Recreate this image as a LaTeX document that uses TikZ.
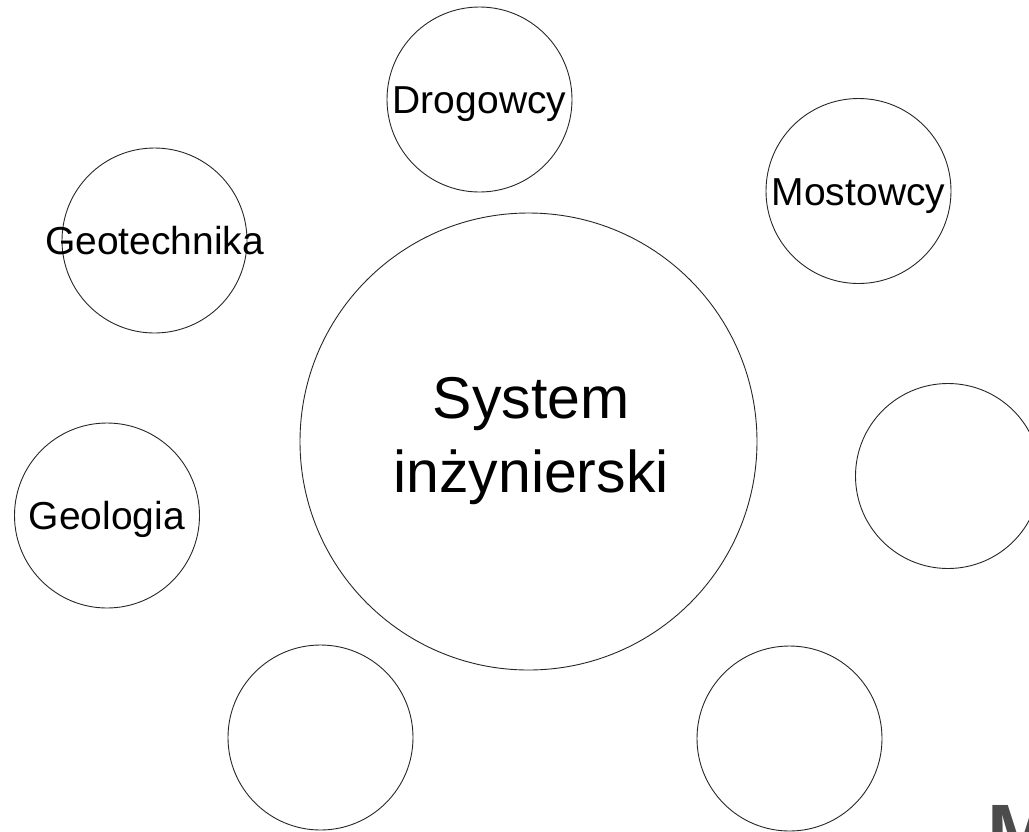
\documentclass[tikz,border=0pt]{standalone}
\usepackage{fontspec}
\setmainfont{Liberation Sans}
\begin{document}
\begin{tikzpicture}[x=1pt,y=-1pt,
  bub/.style={circle,draw=black!85,line width=0.9pt,inner sep=0pt,minimum size=#1},
  bub/.default=185pt,
  lbl/.style={inner sep=0pt,text height=28pt,text depth=0pt,font=\fontsize{39}{47}\selectfont},
  big/.style={inner sep=0pt,anchor=base,font=\fontsize{59}{74}\selectfont}]
\useasboundingbox (0,0) rectangle (1029,831);
\begin{scope}
\clip (0,0) rectangle (1029,831);
% central circle
\node[bub=457pt] (sys) at (528.5,441.5) {};
\node[big] (sys1) at (531,418) {System};
\node[big] (sys2) at (531,492) {inżynierski};
% surrounding circles
\node[bub] (dro) at (479.5,99.5) {};
\node[lbl] (drot) at (dro.center) {Drogowcy};
\node[bub] (mos) at (858.5,191) {};
\node[lbl] (most) at (mos.center) {Mostowcy};
\node[bub] (geot) at (154.5,240.5) {};
\node[lbl] (geott) at (geot.center) {Geotechnika};
\node[bub] (geol) at (107,515.5) {};
\node[lbl] (geolt) at (geol.center) {Geologia};
\node[bub] (e1) at (948,476) {};
\node[bub] (e2) at (320.5,737.5) {};
\node[bub] (e3) at (789.5,738.5) {};
% partial letter in the corner
\node[inner sep=0pt,anchor=north west,text height=57pt,text depth=0pt,text=black!70,
  font=\fontsize{80}{90}\selectfont\bfseries] (mark) at (987,803) {M};
\end{scope}
\end{tikzpicture}
\end{document}
